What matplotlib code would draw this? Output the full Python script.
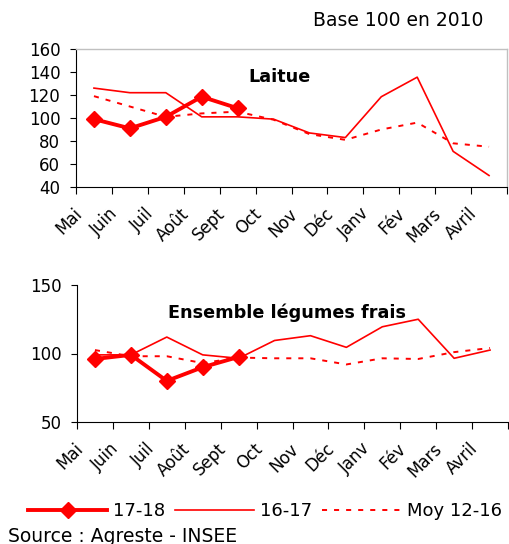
import matplotlib
import numpy as np

matplotlib.use("Agg")
import matplotlib.pyplot as plt
import matplotlib.transforms as mtransforms
from matplotlib.lines import Line2D

plt.rcParams["font.family"] = ["DejaVu Sans"]

RED = "#ff0000"

months = ["Mai", "Juin", "Juil", "Août", "Sept", "Oct", "Nov", "Déc",
          "Janv", "Fév", "Mars", "Avril"]

# Laitue
laitue_1718 = [99, 91, 101, 118.5, 108.5]
laitue_1617 = [126, 122, 122, 101, 101, 99, 87, 83, 118.5, 135.5, 71, 50]
laitue_moy = [119, 110, 101, 104, 105.5, 98.5, 86, 81, 90, 96, 78, 75]

# Ensemble légumes frais
legumes_1718 = [96, 99, 80, 90, 97.5]
legumes_1617 = [99, 99, 112, 99, 96.5, 109.5, 113, 104.5, 119.5, 125, 96.5, 102.5]
legumes_moy = [102.5, 98, 98, 93, 97, 96.5, 96.5, 92, 96.5, 96, 101, 104]

series_labels = ["17-18", "16-17", "Moy 12-16"]

DOT = (0, (2.6, 3.6))


def draw_panel(ax, v1718, v1617, vmoy, title, ylim, yticks, title_xy):
    x = np.arange(len(months))
    ax.plot(x, vmoy, color=RED, lw=1.4, linestyle=DOT)
    ax.plot(x, v1617, color=RED, lw=1.2)
    ax.plot(x[:len(v1718)], v1718, color=RED, lw=2.8, marker="D",
            markersize=8)
    ax.set_xlim(-0.5, len(months) - 0.5)
    ax.set_ylim(*ylim)
    ax.set_yticks(yticks)
    ax.tick_params(axis="y", labelsize=12, length=4.3, width=0.8, pad=7)

    ax.set_xticks(x)
    ax.set_xticklabels(months, rotation=45, ha="right", va="center",
                       rotation_mode="anchor", fontsize=12)
    ax.tick_params(axis="x", which="major", length=0, pad=0)
    ax.set_xticks(np.arange(-0.5, len(months)), minor=True)
    ax.tick_params(axis="x", which="minor", length=5, width=0.8)
    off = mtransforms.ScaledTranslation(-15 / 100, -24 / 100,
                                        ax.figure.dpi_scale_trans)
    for lab in ax.get_xticklabels():
        lab.set_transform(lab.get_transform() + off)

    ax.text(title_xy[0], title_xy[1], title, transform=ax.transAxes,
            fontsize=12.7, fontweight="bold", ha="center", va="center")


fig = plt.figure(figsize=(5.09, 5.44), dpi=100)

ax1 = fig.add_axes([76 / 509, 1 - 187 / 544, 431 / 509, 138 / 544])
draw_panel(ax1, laitue_1718, laitue_1617, laitue_moy, "Laitue",
           (40, 160), np.arange(40, 161, 20), (0.473, 0.80))
for s in ["top", "right"]:
    ax1.spines[s].set_color("#c0c0c0")
    ax1.spines[s].set_linewidth(1.0)

ax2 = fig.add_axes([77 / 509, 1 - 422 / 544, 431 / 509, 137 / 544])
draw_panel(ax2, legumes_1718, legumes_1617, legumes_moy,
           "Ensemble légumes frais", (50, 150), [50, 100, 150], (0.488, 0.80))
for s in ["top", "right"]:
    ax2.spines[s].set_visible(False)

fig.text(313 / 509, 1 - 20 / 544, "Base 100 en 2010", fontsize=13.5,
         ha="left", va="center")
fig.text(8 / 509, 1 - 536 / 544, "Source : Agreste - INSEE", fontsize=13.5,
         ha="left", va="center")

handles = [
    Line2D([], [], color=RED, lw=2.8, marker="D", markersize=8),
    Line2D([], [], color=RED, lw=1.2),
    Line2D([], [], color=RED, lw=1.4, linestyle=DOT),
]
fig.legend(handles, series_labels, loc="center",
           bbox_to_anchor=(0.52, 1 - 511 / 544), ncol=3, frameon=False,
           fontsize=13, handlelength=4.4, handletextpad=0.3,
           columnspacing=0.55, borderpad=0, borderaxespad=0)

fig.savefig("out.png", dpi=100)
plt.close(fig)
